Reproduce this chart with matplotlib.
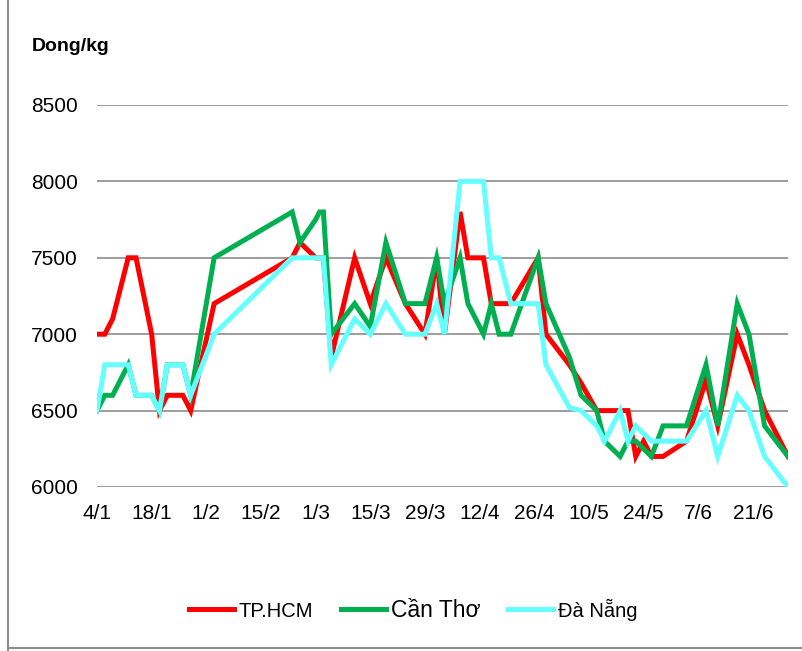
import datetime as dt
import matplotlib
matplotlib.use("Agg")
import matplotlib.pyplot as plt
from matplotlib.lines import Line2D

plt.rcParams['font.family'] = ['Liberation Sans', 'DejaVu Sans']

dates = ["2013-01-04", "2013-01-06", "2013-01-08", "2013-01-12", "2013-01-14",
         "2013-01-18", "2013-01-20", "2013-01-22", "2013-01-26", "2013-01-28",
         "2013-02-03", "2013-02-23", "2013-02-25", "2013-03-01", "2013-03-02",
         "2013-03-03", "2013-03-05", "2013-03-11", "2013-03-15", "2013-03-19",
         "2013-03-24", "2013-03-29", "2013-04-01", "2013-04-03", "2013-04-07",
         "2013-04-09", "2013-04-13", "2013-04-15", "2013-04-17", "2013-04-20",
         "2013-04-27", "2013-04-29", "2013-05-05", "2013-05-08", "2013-05-12",
         "2013-05-14", "2013-05-18", "2013-05-20", "2013-05-22", "2013-05-24",
         "2013-05-26", "2013-05-29", "2013-06-04", "2013-06-09", "2013-06-12",
         "2013-06-17", "2013-06-20", "2013-06-24", "2013-06-30"]

hcm = [7000, 7000, 7100, 7500, 7500, 7000, 6500, 6600, 6600, 6500,
       7200, 7500, 7600, 7500, 7500, 7500, 6850, 7500, 7200, 7500,
       7200, 7000, 7500, 7000, 7800, 7500, 7500, 7200, 7200, 7200,
       7500, 7000, 6800, 6680, 6500, 6500, 6500, 6500, 6200, 6300,
       6200, 6200, 6300, 6700, 6400, 7000, 6800, 6500, 6200]

can_tho = [6500, 6600, 6600, 6800, 6600, 6600, 6500, 6800, 6800, 6600,
           7500, 7800, 7600, 7750, 7800, 7800, 7000, 7200, 7050, 7600,
           7200, 7200, 7500, 7200, 7500, 7200, 7000, 7200, 7000, 7000,
           7500, 7200, 6850, 6600, 6500, 6300, 6200, 6300, 6300, 6250,
           6200, 6400, 6400, 6800, 6400, 7200, 7000, 6400, 6200]

da_nang = [6500, 6800, 6800, 6800, 6600, 6600, 6500, 6800, 6800, 6600,
           7000, 7500, 7500, 7500, 7500, 7500, 6800, 7100, 7000, 7200,
           7000, 7000, 7200, 7000, 8000, 8000, 8000, 7500, 7500, 7200,
           7200, 6800, 6520, 6500, 6400, 6300, 6500, 6300, 6400, 6350,
           6300, 6300, 6300, 6500, 6200, 6600, 6500, 6200, 6000]

x = [dt.datetime.strptime(d, "%Y-%m-%d") for d in dates]

fig = plt.figure(figsize=(8.03, 6.51), dpi=100)
ax = fig.add_axes([97/803, 1-487/651, (788-97)/803, (487-105)/651])

ax.plot(x, hcm, color="#FF0000", lw=3.6, solid_joinstyle="miter")
ax.plot(x, can_tho, color="#00B050", lw=3.6, solid_joinstyle="miter")
ax.plot(x, da_nang, color="#66FFFF", lw=3.6, solid_joinstyle="miter")

ax.set_ylim(6000, 8500)
ax.set_yticks([6000, 6500, 7000, 7500, 8000, 8500])
ax.set_xlim(x[0], x[-1])
ticks = [x[0] + dt.timedelta(days=14*i) for i in range(13)]
ax.set_xticks(ticks)
ax.set_xticklabels([f"{t.day}/{t.month}" for t in ticks])
ax.grid(axis="y", color="#8c8c8c", lw=1.2)
ax.set_axisbelow(True)
for s in ax.spines.values():
    s.set_visible(False)
ax.tick_params(axis="both", length=0, labelsize=15, colors="black")
ax.tick_params(axis="y", pad=14)
ax.tick_params(axis="x", pad=12)

fig.text(32/803, 1-51/651, "Dong/kg", fontsize=14, fontweight="bold", va="baseline")

# chart border
fig.add_artist(Line2D([8/803, 8/803], [0, 1], color="#8c8c8c", lw=1.5))
fig.add_artist(Line2D([8/803, 1], [3/651, 3/651], color="#8c8c8c", lw=1.5))

handles = [Line2D([], [], color="#FF0000", lw=3.6),
           Line2D([], [], color="#00B050", lw=3.6),
           Line2D([], [], color="#66FFFF", lw=3.6)]
leg = fig.legend(handles, ["TP.HCM", "Cần Thơ", "Đà Nẵng"], loc="center",
                 bbox_to_anchor=(413/803, 1-610/651), ncol=3, frameon=False,
                 fontsize=14.5, handlelength=2.25, handletextpad=0.25, columnspacing=1.35)
leg.get_texts()[1].set_fontsize(16.5)

fig.savefig("out.png", dpi=100)
